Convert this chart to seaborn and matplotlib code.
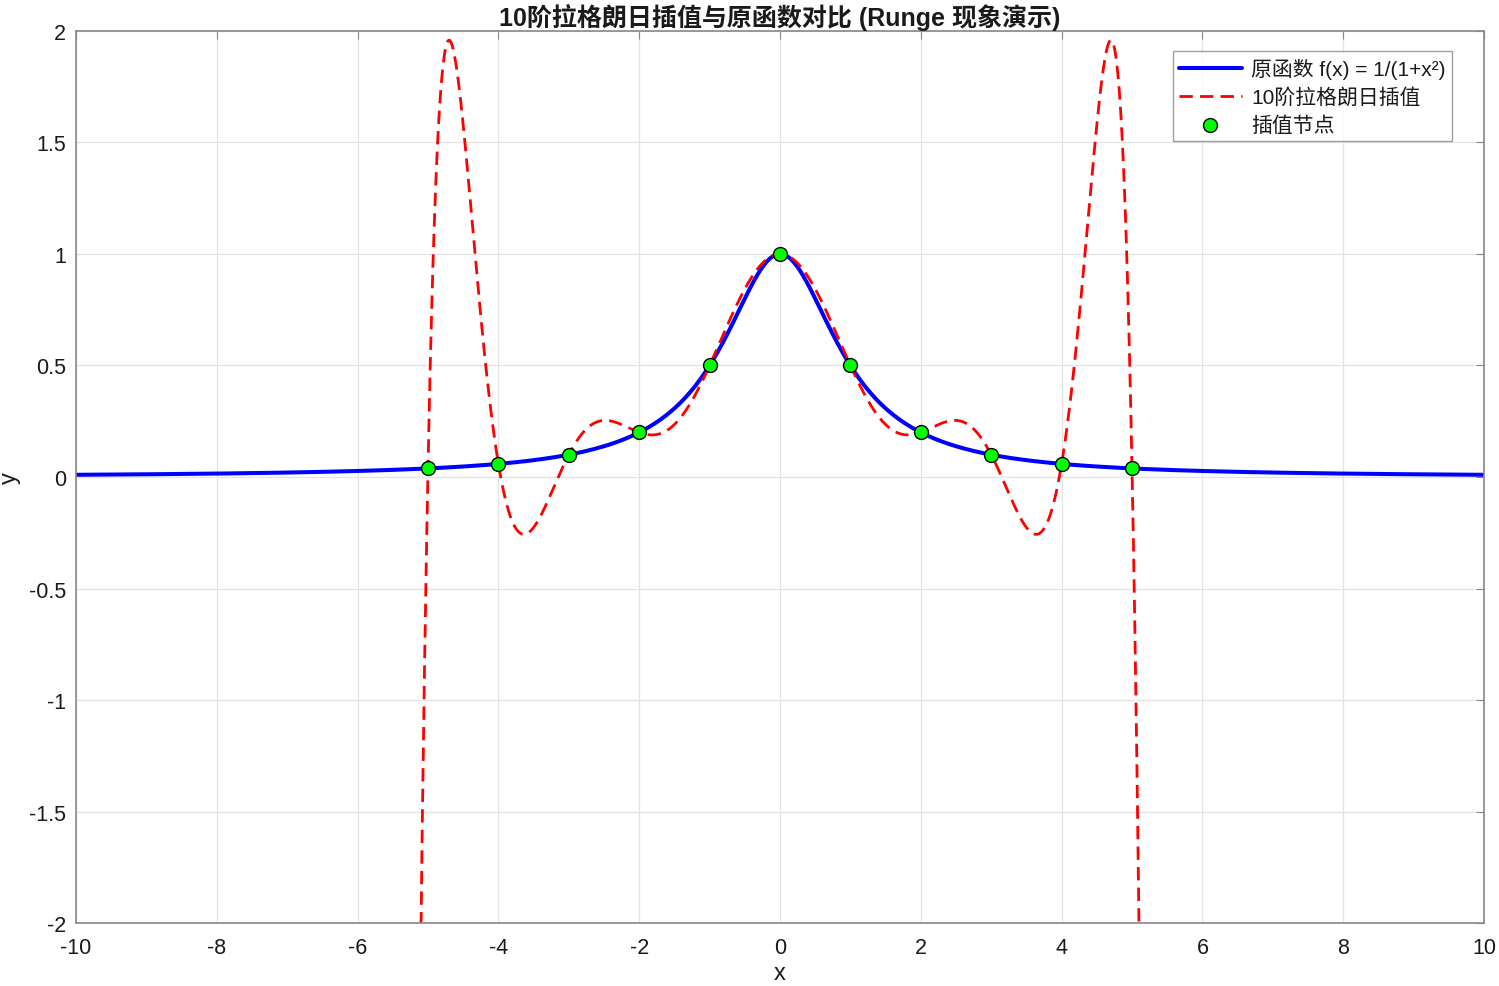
import numpy as np
import pandas as pd
import matplotlib
matplotlib.use('Agg')
import matplotlib.pyplot as plt
import seaborn as sns

# interpolation nodes (x = -5..5) and node values
node_x = [-5, -4, -3, -2, -1, 0, 1, 2, 3, 4, 5]
node_y = [0.0385, 0.0588, 0.1, 0.2, 0.5, 1.0, 0.5, 0.2, 0.1, 0.0588, 0.0385]

x_ticks = [-10, -8, -6, -4, -2, 0, 2, 4, 6, 8, 10]
y_ticks = [-2, -1.5, -1, -0.5, 0, 0.5, 1, 1.5, 2]
y_labels = ['-2', '-1.5', '-1', '-0.5', '0', '0.5', '1', '1.5', '2']

title = '10阶拉格朗日插值与原函数对比 (Runge 现象演示)'
lbl_f = '原函数 f(x) = 1/(1+x²)'
lbl_p = '10阶拉格朗日插值'
lbl_n = '插值节点'

sns.set_style('white')
plt.rcParams['font.family'] = ['Liberation Sans', 'Noto Sans CJK SC', 'DejaVu Sans']
plt.rcParams['axes.unicode_minus'] = False

# curves: original function as given in legend, and the degree-10 polynomial through the nodes
xs = np.linspace(-10, 10, 2001)
coef = np.polyfit(node_x, node_y, 10)
df = pd.DataFrame({'x': xs,
                   'f': 1.0 / (1.0 + xs ** 2),
                   'p': np.polyval(coef, xs)})

fig = plt.figure(figsize=(14.99, 9.87), dpi=100)
ax = fig.add_axes([0.0507, 0.0638, 0.9393, 0.9038])

sns.lineplot(data=df, x='x', y='f', ax=ax, color='#0000ff', lw=2.9, label=lbl_f)
sns.lineplot(data=df, x='x', y='p', ax=ax, color='#ff0000', lw=2.0, label=lbl_p,
             dashes=False)
ax.lines[-1].set_dashes([4.8, 2.6])
sns.scatterplot(x=node_x, y=node_y, ax=ax, color='#00ff00', edgecolor='black',
                s=100, linewidth=1.0, zorder=5, label=lbl_n)

ax.set_xlim(-10, 10)
ax.set_ylim(-2, 2)
ax.set_xticks(x_ticks)
ax.set_xticklabels([str(t) for t in x_ticks])
ax.set_yticks(y_ticks)
ax.set_yticklabels(y_labels)
ax.grid(True, color='#e3e3e3', lw=0.9)
ax.set_axisbelow(True)
ax.tick_params(direction='in', length=6, color='#888888', labelsize=15.5,
               top=True, right=True, labelcolor='#1a1a1a')
ax.tick_params(axis='x', pad=10)
ax.tick_params(axis='y', pad=7)
for s in ax.spines.values():
    s.set_color('#888888')
    s.set_linewidth(1.2)

ax.set_xlabel('x', fontsize=17, labelpad=3, color='#1a1a1a')
ax.set_ylabel('y', fontsize=17, labelpad=6, color='#1a1a1a')
ax.set_title(title, fontsize=18, pad=4, color='#1a1a1a', fontweight='bold')

leg = ax.legend(loc='upper right', bbox_to_anchor=(0.977, 0.977), fontsize=15,
                frameon=True, fancybox=False, edgecolor='#888888',
                handlelength=3.0, borderpad=0.3, labelspacing=0.4,
                handletextpad=0.45, borderaxespad=0.0)
leg.get_frame().set_linewidth(1.0)
for t in leg.get_texts():
    t.set_color('#1a1a1a')

fig.savefig('out.png', dpi=100)
